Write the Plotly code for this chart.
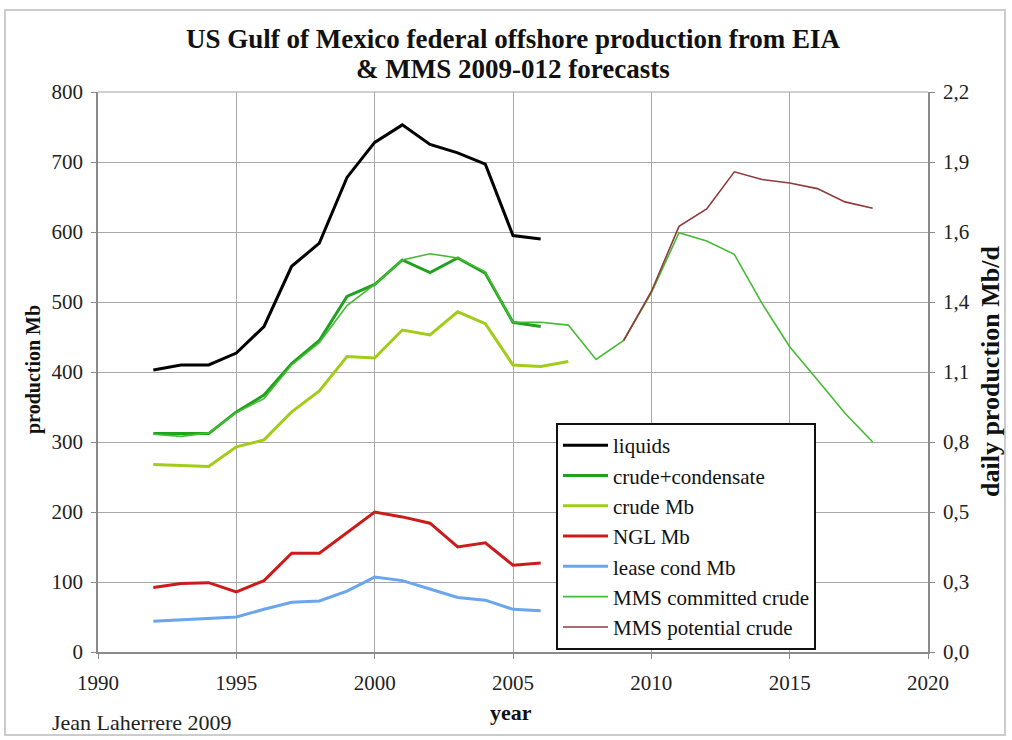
import plotly.graph_objects as go

years_hist = list(range(1992, 2007))
liquids = [403, 410, 410, 427, 465, 551, 584, 678, 728, 753, 725, 713, 697, 595, 590]
crude_cond = [312, 312, 312, 343, 367, 412, 445, 508, 525, 560, 542, 563, 541, 471, 465]
years_crude = list(range(1992, 2008))
crude_mb = [268, 266, 265, 293, 303, 343, 373, 422, 420, 460, 453, 486, 469, 410, 408, 415]
ngl = [92, 98, 99, 86, 102, 141, 141, 170, 200, 193, 184, 150, 156, 124, 127]
lease = [44, 46, 48, 50, 61, 71, 73, 87, 107, 102, 90, 78, 74, 61, 59]
years_mms_c = list(range(1992, 2019))
mms_committed = [311, 308, 313, 342, 362, 410, 442, 495, 525, 560, 569, 563, 543, 471, 471,
                 467, 418, 445, 513, 599, 587, 568, 498, 436, 389, 341, 300]
years_mms_p = list(range(2009, 2019))
mms_potential = [445, 515, 608, 633, 686, 675, 670, 662, 643, 634]

right_vals = [0, 0.275, 0.55, 0.825, 1.1, 1.375, 1.65, 1.925, 2.2]
right_text = ["0,0", "0,3", "0,5", "0,8", "1,1", "1,4", "1,6", "1,9", "2,2"]

SERIF = "Liberation Serif"
W, H = 1012, 740
L, R, T, B = 98, 84, 92, 88
PW, PH = W - L - R, H - T - B


def px(xp):
    return (xp - L) / PW


def py(yp):
    return (H - B - yp) / PH


series = [
    ("liquids", years_hist, liquids, "#000000", 3),
    ("crude+condensate", years_hist, crude_cond, "#1fa31f", 3),
    ("crude Mb", years_crude, crude_mb, "#a2cc1a", 3),
    ("NGL Mb", years_hist, ngl, "#cc1b1b", 3),
    ("lease cond Mb", years_hist, lease, "#6aa6ee", 3),
    ("MMS committed crude", years_mms_c, mms_committed, "#45bb35", 1.6),
    ("MMS potential crude", years_mms_p, mms_potential, "#8e3b3b", 1.6),
]

fig = go.Figure()
for i, (name, xs, ys, col, w) in enumerate(series):
    fig.add_trace(go.Scatter(x=xs, y=ys, name=name, mode="lines",
                             line=dict(color=col, width=w)))

# invisible trace to anchor right axis
fig.add_trace(go.Scatter(x=[1990, 2020], y=[0, 2.2], yaxis="y2", mode="lines",
                         line=dict(width=0), showlegend=False, hoverinfo="skip",
                         opacity=0))

axis_common = dict(showline=True, linecolor="#8a8a8a", linewidth=1.5,
                   ticks="outside", ticklen=5, tickcolor="#8a8a8a", zeroline=False,
                   automargin=False,
                   tickfont=dict(family=SERIF, size=21, color="#222"))

fig.update_layout(
    width=W, height=H,
    margin=dict(l=L, r=R, t=T, b=B),
    paper_bgcolor="white", plot_bgcolor="white",
    font=dict(family=SERIF, size=20, color="#222"),
    xaxis=dict(range=[1990, 2020], tickvals=[1990, 1995, 2000, 2005, 2010, 2015, 2020],
               showgrid=True, gridcolor="#a8a8a8", gridwidth=1,
               ticklabelstandoff=6, **axis_common),
    yaxis=dict(range=[0, 800], tickvals=list(range(0, 801, 100)),
               showgrid=True, gridcolor="#a8a8a8", gridwidth=1,
               ticklabelstandoff=4, **axis_common),
    yaxis2=dict(range=[0, 2.2], overlaying="y", side="right",
                tickvals=right_vals, ticktext=right_text, showgrid=False,
                ticklabelstandoff=4, **axis_common),
    legend=dict(x=px(556), y=py(423), xanchor="left", yanchor="top",
                bgcolor="white", bordercolor="#111", borderwidth=2,
                font=dict(family=SERIF, size=21, color="#111"),
                itemwidth=45),
    showlegend=True,
)

# outer frame
fig.add_shape(type="rect", xref="paper", yref="paper", x0=px(5), x1=px(1005), y0=py(735), y1=py(10),
              line=dict(color="#cccccc", width=2))
# top border line of plot
fig.add_shape(type="line", xref="paper", yref="paper", x0=0, x1=1, y0=1, y1=1,
              line=dict(color="#a0a0a0", width=1))

# title (two lines)
fig.add_annotation(text="<b>US Gulf of Mexico federal offshore production from EIA</b>",
                   xref="paper", yref="paper", x=px(513), y=py(39), xanchor="center", yanchor="middle",
                   showarrow=False, font=dict(family=SERIF, size=27, color="#111"))
fig.add_annotation(text="<b>&amp; MMS 2009-012 forecasts</b>",
                   xref="paper", yref="paper", x=px(513), y=py(69), xanchor="center", yanchor="middle",
                   showarrow=False, font=dict(family=SERIF, size=27, color="#111"))

# axis titles
fig.add_annotation(text="<b>production Mb</b>", xref="paper", yref="paper",
                   x=px(33), y=py(370), xanchor="center", yanchor="middle", textangle=-90,
                   showarrow=False, font=dict(family=SERIF, size=20, color="#111"))
fig.add_annotation(text="<b>daily production Mb/d</b>", xref="paper", yref="paper",
                   x=px(990), y=py(372), xanchor="center", yanchor="middle", textangle=-90,
                   showarrow=False, font=dict(family=SERIF, size=26, color="#111"))
fig.add_annotation(text="<b>year</b>", xref="paper", yref="paper",
                   x=px(511), y=py(712), xanchor="center", yanchor="middle",
                   showarrow=False, font=dict(family=SERIF, size=22, color="#111"))
fig.add_annotation(text="Jean Laherrere 2009", xref="paper", yref="paper",
                   x=px(50), y=py(722), xanchor="left", yanchor="middle",
                   showarrow=False, font=dict(family=SERIF, size=22, color="#222"))

fig.write_html("out.html", config={"displayModeBar": False},
               post_script="document.body.style.margin='0px';")
